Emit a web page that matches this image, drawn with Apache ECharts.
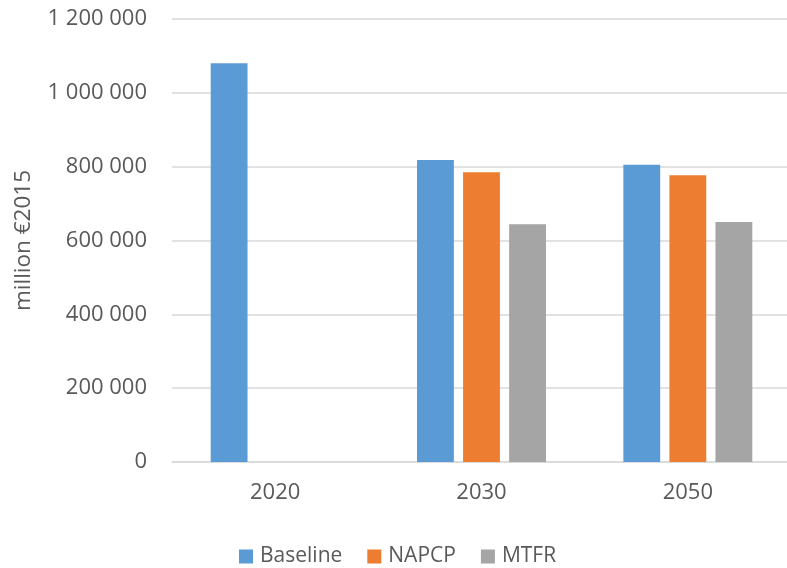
<!DOCTYPE html>
<html>
<head>
<meta charset="utf-8">
<script src="https://cdn.jsdelivr.net/npm/echarts@6/dist/echarts.min.js"></script>
<style>
html,body{margin:0;padding:0;background:#fff;overflow:hidden;}
#chart{width:800px;height:568px;}
</style>
</head>
<body>
<div id="chart"></div>
<script>
var categories = ['2020', '2030', '2050'];
var seriesNames = ['Baseline', 'NAPCP', 'MTFR'];
var baseline = [1080000, 818000, 805000];
var napcp = [null, 785000, 777000];
var mtfr = [null, 644000, 650000];
var colors = ['#5B9BD5', '#ED7D31', '#A5A5A5'];
var yAxisName = 'million €2015';

var FONT = '"Open Sans"';
var TXT = '#595959';

function fmt(v) {
  return String(v).replace(/\B(?=(\d{3})+(?!\d))/g, ' ');
}

var chart = echarts.init(document.getElementById('chart'), null, {renderer: 'canvas'});
var values = [baseline, napcp, mtfr];
chart.setOption({
  animation: false,
  textStyle: {fontFamily: FONT},
  color: colors,
  grid: {left: 172, width: 619, top: 19, bottom: 106, containLabel: false},
  legend: {
    data: seriesNames,
    left: 239,
    top: 546,
    padding: 0,
    icon: 'rect',
    itemWidth: 14,
    itemHeight: 14,
    itemGap: 25,
    textStyle: {fontFamily: FONT, fontSize: 21, color: TXT, padding: [0, 0, 0, 2]}
  },
  xAxis: {
    type: 'category',
    data: categories,
    axisTick: {show: false},
    axisLine: {lineStyle: {color: '#D9D9D9', width: 1.5}},
    axisLabel: {fontFamily: FONT, fontSize: 22, color: TXT, margin: 20}
  },
  yAxis: {
    type: 'value',
    min: 0,
    max: 1200000,
    interval: 200000,
    name: yAxisName,
    nameLocation: 'middle',
    nameRotate: 90,
    nameGap: 137,
    nameTextStyle: {fontFamily: FONT, fontSize: 22.5, color: TXT},
    axisLine: {show: false},
    axisTick: {show: false},
    splitLine: {lineStyle: {color: '#D9D9D9', width: 1.5}},
    axisLabel: {fontFamily: FONT, fontSize: 22, color: TXT, margin: 25, formatter: fmt}
  },
  series: seriesNames.map(function (n, i) {
    return {
      name: n,
      type: 'bar',
      data: values[i],
      barGap: '25%',
      barCategoryGap: '37.5%',
      itemStyle: {color: colors[i]}
    };
  })
});
</script>
</body>
</html>
